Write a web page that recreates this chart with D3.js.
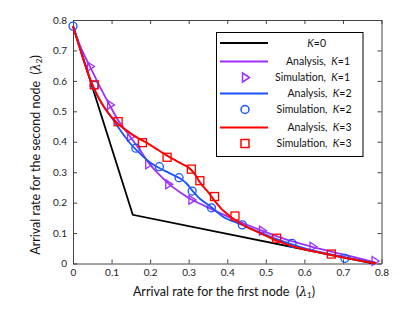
<!DOCTYPE html>
<html>
<head>
<meta charset="utf-8">
<script src="https://cdn.jsdelivr.net/npm/d3@7"></script>
<style>
  body { margin: 0; background: #fff; }
  text { font-family: Lato, "Open Sans", sans-serif; }
</style>
</head>
<body>
<div id="chart"></div>
<script>
// Analysis curves [lambda1, lambda2]
const k0Line = [[0, 0.78], [0.155, 0.16], [0.78, 0]];
const k1Analysis = [[0, 0.78], [0.02, 0.71], [0.044, 0.647], [0.07, 0.58], [0.096, 0.518], [0.12, 0.465],
  [0.148, 0.417], [0.175, 0.37], [0.2, 0.325], [0.225, 0.29], [0.25, 0.26], [0.28, 0.232], [0.307, 0.21],
  [0.34, 0.19], [0.37, 0.172], [0.4, 0.155], [0.44, 0.133], [0.49, 0.108], [0.55, 0.08], [0.62, 0.055],
  [0.7, 0.03], [0.785, 0.003]];
const k2Analysis = [[0, 0.78], [0.02, 0.7], [0.053, 0.575], [0.08, 0.515], [0.104, 0.472], [0.13, 0.425],
  [0.148, 0.395], [0.182, 0.351], [0.2, 0.332], [0.225, 0.313], [0.25, 0.297], [0.277, 0.28], [0.295, 0.262],
  [0.309, 0.24], [0.33, 0.212], [0.359, 0.185], [0.39, 0.153], [0.439, 0.127], [0.48, 0.105], [0.528, 0.08],
  [0.588, 0.055], [0.65, 0.035], [0.7, 0.022], [0.785, 0.002]];
const k3Analysis = [[0, 0.78], [0.027, 0.67], [0.053, 0.58], [0.08, 0.515], [0.113, 0.463], [0.156, 0.422],
  [0.2, 0.39], [0.243, 0.355], [0.275, 0.332], [0.3, 0.315], [0.315, 0.295], [0.33, 0.265], [0.35, 0.235],
  [0.368, 0.205], [0.39, 0.173], [0.42, 0.143], [0.45, 0.12], [0.485, 0.1], [0.528, 0.075], [0.588, 0.05],
  [0.65, 0.033], [0.7, 0.02], [0.785, 0.001]];

// Simulation points
const k1Sim = [[0.044, 0.647], [0.096, 0.521], [0.148, 0.417], [0.195, 0.326], [0.247, 0.26], [0.307, 0.209],
  [0.49, 0.108], [0.621, 0.055], [0.782, 0.008]];
const k2Sim = [[0, 0.78], [0.055, 0.585], [0.163, 0.379], [0.224, 0.318], [0.275, 0.282], [0.309, 0.238],
  [0.359, 0.183], [0.439, 0.127], [0.568, 0.066], [0.705, 0.017]];
const k3Sim = [[0.055, 0.587], [0.117, 0.466], [0.18, 0.397], [0.244, 0.349], [0.307, 0.31], [0.329, 0.272],
  [0.367, 0.22], [0.42, 0.156], [0.528, 0.083], [0.67, 0.031]];

const ticks = [0, 0.1, 0.2, 0.3, 0.4, 0.5, 0.6, 0.7, 0.8];

const purple = "#9b30ff", blue = "#1a53ff", red = "#ff0000";

const W = 415, H = 321;
const svg = d3.select("#chart").append("svg")
  .attr("width", W).attr("height", H);

const x = d3.scaleLinear().domain([0, 0.8]).range([73, 381.5]);
const y = d3.scaleLinear().domain([0, 0.8]).range([263.5, 20]);

const fmt = d => d === 0 ? "0" : d3.format(".1f")(d);

// axes, ticks inward
svg.append("g").attr("transform", `translate(0,${y(0)})`)
  .call(d3.axisBottom(x).tickValues(ticks).tickFormat(fmt).tickSize(-4).tickSizeOuter(0).tickPadding(5))
  .call(g => g.selectAll("text").style("font-size", "10px").attr("fill", "#222"));
svg.append("g").attr("transform", `translate(${x(0)},0)`)
  .call(d3.axisLeft(y).tickValues(ticks).tickFormat(fmt).tickSize(-4).tickSizeOuter(0).tickPadding(6))
  .call(g => g.selectAll("text").style("font-size", "10px").attr("fill", "#222"));
svg.append("g").attr("transform", `translate(0,${y(0.8)})`)
  .call(d3.axisTop(x).tickValues(ticks).tickFormat("").tickSize(-4).tickSizeOuter(0));
svg.append("g").attr("transform", `translate(${x(0.8)},0)`)
  .call(d3.axisRight(y).tickValues(ticks).tickFormat("").tickSize(-4).tickSizeOuter(0));
svg.selectAll(".domain").attr("stroke", "#444");
svg.selectAll(".tick line").attr("stroke", "#444");

const line = d3.line().x(d => x(d[0])).y(d => y(d[1])).curve(d3.curveCatmullRom);

svg.append("path").datum(k0Line)
  .attr("d", d3.line().x(d => x(d[0])).y(d => y(d[1])))
  .attr("fill", "none").attr("stroke", "#000").attr("stroke-width", 1.8);

// markers
const tri = (cx, cy, s) => `M${cx - s * 0.55},${cy - s}L${cx + s},${cy}L${cx - s * 0.55},${cy + s}Z`;

function drawTriangles(data, color) {
  svg.append("g").selectAll("path").data(data).join("path")
    .attr("d", d => tri(x(d[0]), y(d[1]), 4.5))
    .attr("fill", "none").attr("stroke", color).attr("stroke-width", 1.3);
}
function drawCircles(data, color) {
  svg.append("g").selectAll("circle").data(data).join("circle")
    .attr("cx", d => x(d[0])).attr("cy", d => y(d[1])).attr("r", 4)
    .attr("fill", "none").attr("stroke", color).attr("stroke-width", 1.3);
}
function drawSquares(data, color) {
  svg.append("g").selectAll("rect").data(data).join("rect")
    .attr("x", d => x(d[0]) - 4).attr("y", d => y(d[1]) - 4)
    .attr("width", 8).attr("height", 8)
    .attr("fill", "none").attr("stroke", color).attr("stroke-width", 1.3);
}

drawTriangles(k1Sim, purple);
svg.append("path").datum(k1Analysis).attr("d", line)
  .attr("fill", "none").attr("stroke", purple).attr("stroke-width", 1.8);
drawCircles(k2Sim, blue);
svg.append("path").datum(k2Analysis).attr("d", line)
  .attr("fill", "none").attr("stroke", blue).attr("stroke-width", 1.8);
drawSquares(k3Sim, red);
svg.append("path").datum(k3Analysis).attr("d", line)
  .attr("fill", "none").attr("stroke", red).attr("stroke-width", 2);

// axis titles
const xt = svg.append("text").attr("x", 224).attr("y", 296)
  .attr("text-anchor", "middle").style("font-size", "12.5px").attr("fill", "#111");
xt.append("tspan").text("Arrival rate for the first node\u00a0\u00a0(");
xt.append("tspan").style("font-style", "italic").style("font-family", "'DejaVu Serif', serif").text("λ");
xt.append("tspan").attr("font-size", "8px").attr("dy", 2).text("1");
xt.append("tspan").attr("dy", -2).text(")");

const yt = svg.append("text").attr("transform", "translate(40,155) rotate(-90)")
  .attr("text-anchor", "middle").style("font-size", "12.5px").attr("fill", "#111");
yt.append("tspan").text("Arrival rate for the second node\u00a0\u00a0(");
yt.append("tspan").style("font-style", "italic").style("font-family", "'DejaVu Serif', serif").text("λ");
yt.append("tspan").attr("font-size", "8px").attr("dy", 2).text("2");
yt.append("tspan").attr("dy", -2).text(")");

// legend
const legend = svg.append("g");
legend.append("rect").attr("x", 216.5).attr("y", 32.5).attr("width", 146.5).attr("height", 124)
  .attr("fill", "#fff").attr("stroke", "#000").attr("stroke-width", 1);

const legendItems = [
  { type: "line", color: "#000", pre: "", k: "0", y: 43, end: 326 },
  { type: "line", color: purple, pre: "Analysis,\u00a0\u00a0", k: "1", y: 61.5, end: 350 },
  { type: "tri", color: purple, pre: "Simulation,\u00a0\u00a0", k: "1", y: 77.5, end: 350 },
  { type: "line", color: blue, pre: "Analysis,\u00a0\u00a0", k: "2", y: 93.5, end: 351.5 },
  { type: "circle", color: blue, pre: "Simulation,\u00a0\u00a0", k: "2", y: 109.5, end: 351.5 },
  { type: "line", color: red, pre: "Analysis,\u00a0\u00a0", k: "3", y: 127.5, end: 351.5 },
  { type: "square", color: red, pre: "Simulation,\u00a0\u00a0", k: "3", y: 143.5, end: 351.5 }
];

legendItems.forEach(it => {
  if (it.type === "line") {
    legend.append("line").attr("x1", 220).attr("x2", 268).attr("y1", it.y).attr("y2", it.y)
      .attr("stroke", it.color).attr("stroke-width", 1.8);
  } else if (it.type === "tri") {
    legend.append("path").attr("d", tri(245, it.y, 4.5))
      .attr("fill", "none").attr("stroke", it.color).attr("stroke-width", 1.5);
  } else if (it.type === "circle") {
    legend.append("circle").attr("cx", 245).attr("cy", it.y).attr("r", 4)
      .attr("fill", "none").attr("stroke", it.color).attr("stroke-width", 1.5);
  } else {
    legend.append("rect").attr("x", 241).attr("y", it.y - 4).attr("width", 8).attr("height", 8)
      .attr("fill", "none").attr("stroke", it.color).attr("stroke-width", 1.5);
  }
  const t = legend.append("text").attr("x", it.end).attr("y", it.y + 3.5)
    .attr("text-anchor", "end").style("font-size", "10.5px").attr("fill", "#111");
  t.append("tspan").text(it.pre);
  t.append("tspan").style("font-style", "italic").text("K");
  t.append("tspan").text("=" + it.k);
});
</script>
</body>
</html>
